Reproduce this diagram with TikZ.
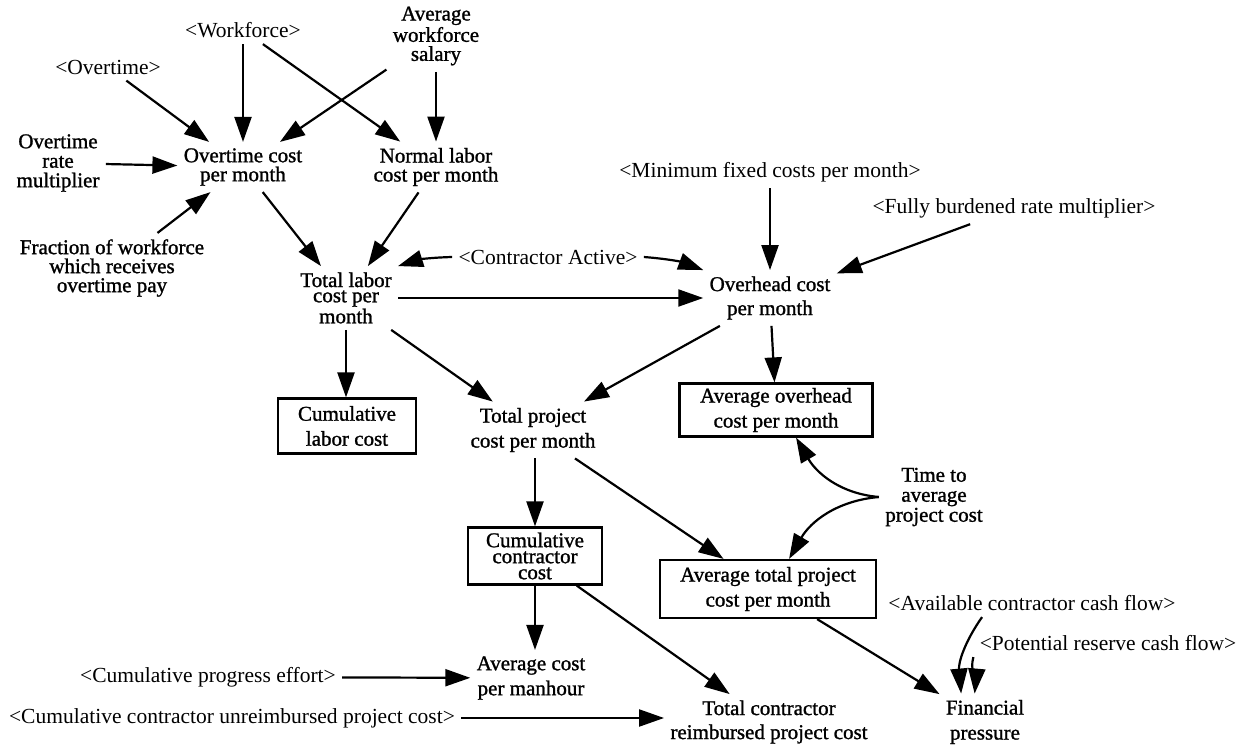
\documentclass[tikz,border=0pt]{standalone}
\usepackage{fontspec}
\setmainfont{Liberation Serif}
\newfontfamily\heavy{Liberation Serif}[FakeBold=1.2]
\usetikzlibrary{arrows.meta}

\begin{document}
\begin{tikzpicture}[x=0.5pt,y=-0.5pt,
  lead/.style={font=\heavy\fontsize{10.5}{#1}\selectfont},
  var/.style={align=center, inner sep=3pt},
  ghost/.style={inner sep=3pt, font=\fontsize{10.75}{13}\selectfont},
  stock/.style={draw, line width=1.1pt, align=center, inner sep=0pt},
  link/.style={-{Triangle[length=12.5pt,width=8.5pt]}, line width=1.1pt}]

\fill[white] (0,0) rectangle (1252,748);
\useasboundingbox (0,0) rectangle (1252,748);

% variables
\node[ghost] (wf) at (243,30) {<Workforce>};
\node[var, lead=9.5pt] (avgsal) at (436,36) {Average\\workforce\\salary};
\node[ghost] (ot) at (108,67) {<Overtime>};
\node[var, lead=9.75pt] (otm) at (58,163) {Overtime\\rate\\multiplier};
\node[var, lead=9.5pt] (otc) at (243,167) {Overtime cost\\per month};
\node[var, lead=9.5pt] (nlc) at (436,167) {Normal labor\\cost per month};
\node[var, lead=9.5pt] (frac) at (112,268) {Fraction of workforce\\which receives\\overtime pay};
\node[var, lead=7.6pt] (tlc) at (346,298) {Total labor\\cost per\\month};
\node[ghost] (ca) at (548,257) {<Contractor Active>};
\node[ghost] (mfc) at (770,172) {<Minimum fixed costs per month>};
\node[ghost] (fbr) at (1014,208) {<Fully burdened rate multiplier>};
\node[var, lead=12pt] (ohc) at (770,298) {Overhead cost\\per month};
\node[stock, lead=12.5pt, minimum width=69pt, minimum height=27.5pt] (cl) at (347,426) {Cumulative\\labor cost};
\node[var, lead=12.5pt] (tpc) at (533,430) {Total project\\cost per month};
\node[stock, lead=12.5pt, minimum width=96.5pt, minimum height=26.5pt] (aoh) at (776,410) {Average overhead\\cost per month};
\node[var, lead=10pt] (tta) at (934,497) {Time to\\average\\project cost};
\node[stock, lead=8pt, minimum width=67pt, minimum height=28.5pt] (cc) at (535,556) {Cumulative\\contractor\\cost};
\node[stock, lead=12.5pt, minimum width=108pt, minimum height=29pt] (atp) at (768,589) {Average total project\\cost per month};
\node[ghost] (acf) at (1032,603) {<Available contractor cash flow>};
\node[ghost] (prc) at (1108,643) {<Potential reserve cash flow>};
\node[var, lead=12.5pt] (acm) at (531,678) {Average cost\\per manhour};
\node[ghost] (cpe) at (208,677) {<Cumulative progress effort>};
\node[ghost] (ccu) at (232,718) {<Cumulative contractor unreimbursed project cost>};
\node[var, lead=12pt] (tcr) at (769,722) {Total contractor\\reimbursed project cost};
\node[var, lead=12.5pt] (fp) at (985,722) {Financial\\pressure};

% causal links
\draw[link] (wf) -- (otc);
\draw[link] (wf) -- (nlc);
\draw[link] (avgsal) -- (otc);
\draw[link] (avgsal) -- (nlc);
\draw[link] (ot) -- (otc);
\draw[link] (otm) -- (otc);
\draw[link] (frac) -- (otc);
\draw[link] (otc) -- (tlc);
\draw[link] (nlc) -- (tlc);
\draw[link] (ca.west) to[bend right=8] (tlc.north east);
\draw[link] (ca.east) to[bend left=8] (ohc.north west);
\draw[link] (tlc) -- (ohc);
\draw[link] (mfc) -- (ohc);
\draw[link] (fbr) -- (ohc);
\draw[link] (ohc) -- (aoh);
\draw[link] (ohc) -- (tpc);
\draw[link] (tlc) -- (tpc);
\draw[link] (tlc) -- (tlc |- cl.north);
\draw[link] (cc |- tpc.south) -- (cc);
\draw[link] (tpc) -- (atp);
\draw[link] (tta.west) to[out=175,in=-60] (aoh.-54);
\draw[link] (tta.west) to[out=185,in=60] (atp.55);
\draw[link] (cc) -- (cc |- acm.north);
\draw[link] (cc) -- (tcr);
\draw[link] (cpe) -- (acm);
\draw[link] (ccu) -- (ccu -| tcr.west);
\draw[link] (atp) -- (fp);
\draw[link] ([xshift=50pt]acf.south west) to[out=-125,in=95] (fp.130);
\draw[link] (prc.south west) to[out=-105,in=85] (fp.110);
\end{tikzpicture}
\end{document}
